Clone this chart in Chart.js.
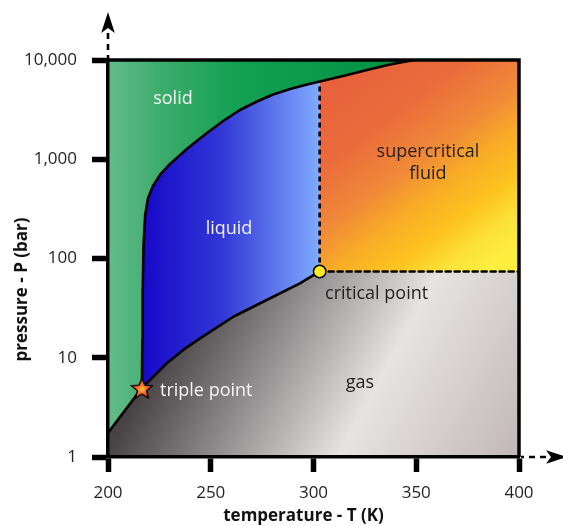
<!DOCTYPE html>
<html>
<head>
<meta charset="utf-8">
<script src="https://cdn.jsdelivr.net/npm/chart.js@4/dist/chart.umd.min.js"></script>
<style>
  html, body { margin: 0; padding: 0; background: #fff; }
  #wrap { width: 563px; height: 526px; }
</style>
</head>
<body>
<div id="wrap"><canvas id="phase" width="563" height="526"></canvas></div>
<script>
// Phase diagram of carbon dioxide: temperature (K) against pressure (bar, log scale)
const TEMP_TICKS = [200, 250, 300, 350, 400];
const PRESSURE_TICKS = [1, 10, 100, 1000, 10000];
const T_MIN = 200, T_MAX = 400;
const P_MIN = 1, P_MAX = 10000;

const TRIPLE_POINT = { T: 216.5, P: 4.95 };
const CRITICAL_POINT = { T: 303, P: 74 };

// solid / gas boundary
const sublimationT = [200, 208, 216.5];
const sublimationP = [1.75, 2.9, 4.95];

// liquid / gas boundary
const vaporizationT = [216.5, 228.6, 236.6, 244.8, 261, 277.2, 293.4, 303];
const vaporizationP = [4.95, 8.8, 12, 15.7, 25.9, 38.2, 56.2, 74];

// solid / liquid (and solid / supercritical) boundary
const meltingT = [216.5, 216.7, 216.9, 217.3, 218.1, 219.5, 221.9, 225.3, 230.2, 238.9, 247.2, 256, 264.2, 272.5, 280.3, 288.6, 295.9, 303, 314.4, 326, 337.2, 349];
const meltingP = [4.95, 15.1, 48.2, 137, 274, 407, 537, 694, 896, 1297, 1775, 2428, 3133, 3820, 4490, 5103, 5600, 6070, 6900, 7925, 9016, 10000];

const REGION_LABELS = [
  { lines: ['solid'], T: 231.6, P: 4050, light: true, align: 'center' },
  { lines: ['liquid'], T: 258.9, P: 198, light: true, align: 'center' },
  { lines: ['supercritical', 'fluid'], T: 355.7, P: 917, light: false, align: 'center' },
  { lines: ['critical point'], T: 305.6, P: 43.9, light: false, align: 'left' },
  { lines: ['gas'], T: 322.6, P: 5.57, light: false, align: 'center' },
  { lines: ['triple point'], T: 225.3, P: 4.62, light: true, align: 'left' }
];

const X_TITLE = 'temperature - T (K)';
const Y_TITLE = 'pressure - P (bar)';

const FONT = "'Open Sans', 'DejaVu Sans', sans-serif";
const INK = '#231f20';
const LINE_W = 2.6;

const zip = (ts, ps) => ts.map((t, i) => ({ x: t, y: ps[i] }));

const meltingPts = zip(meltingT, meltingP);
const meltToTop = [...meltingPts, { x: T_MAX, y: P_MAX }];
const supercritToTop = [...meltingPts.filter(p => p.x >= CRITICAL_POINT.T), { x: T_MAX, y: P_MAX }];
const gasBoundary = [
  ...zip(sublimationT, sublimationP),
  ...zip(vaporizationT, vaporizationP).slice(1),
  { x: T_MAX, y: CRITICAL_POINT.P }
];
const criticalColumn = [
  { x: CRITICAL_POINT.T, y: CRITICAL_POINT.P },
  meltingPts.find(p => p.x === CRITICAL_POINT.T)
];

// gradients are laid out in pixel space once the chart area is known
function withArea(ctx, build) {
  const chart = ctx.chart;
  if (!chart.chartArea) return 'rgba(0,0,0,0)';
  return build(chart.ctx, chart.chartArea, chart.scales.x, chart.scales.y);
}
function stops(g, list) { list.forEach(([o, c]) => g.addColorStop(o, c)); return g; }

const solidFill = c => withArea(c, (ctx, a) =>
  stops(ctx.createLinearGradient(a.left, 0, a.right, 0),
    [[0, '#64bc8b'], [0.12, '#3fad6e'], [0.3, '#15a154'], [0.6, '#069548'], [1, '#058b42']]));

const liquidFill = c => withArea(c, (ctx, a, x) =>
  stops(ctx.createLinearGradient(x.getPixelForValue(TRIPLE_POINT.T), 0, x.getPixelForValue(CRITICAL_POINT.T), 0),
    [[0, '#1608c8'], [0.45, '#3237d6'], [1, '#80abff']]));

const fluidFill = c => withArea(c, (ctx, a, x, y) =>
  stops(ctx.createLinearGradient(x.getPixelForValue(310), y.getPixelForValue(9000), x.getPixelForValue(385), y.getPixelForValue(80)),
    [[0, '#e75e3c'], [0.3, '#eb6c3c'], [0.5, '#f08a38'], [0.63, '#f8ab27'], [0.78, '#fcc41f'], [0.9, '#fde23a'], [1, '#fdee40']]));

const gasFill = c => withArea(c, (ctx, a) =>
  stops(ctx.createLinearGradient(a.left, a.bottom - 7, a.left + 316, a.bottom + 165),
    [[0, '#474244'], [0.25, '#8b8889'], [0.57, '#e6e4e2'], [1, '#c3b8b9']]));

function makeStar(r) {
  const size = Math.ceil(r * 2 + 4);
  const cv = document.createElement('canvas');
  cv.width = cv.height = size;
  const g = cv.getContext('2d');
  const cx = size / 2, cy = size / 2 + r * 0.1;
  g.beginPath();
  for (let i = 0; i < 10; i++) {
    const rad = i % 2 ? r * 0.45 : r;
    const ang = -Math.PI / 2 + i * Math.PI / 5;
    g.lineTo(cx + rad * Math.cos(ang), cy + rad * Math.sin(ang));
  }
  g.closePath();
  const grad = g.createRadialGradient(cx, cy, 0, cx, cy, r);
  grad.addColorStop(0, '#ffc23a');
  grad.addColorStop(0.45, '#f5672a');
  grad.addColorStop(1, '#e2301e');
  g.fillStyle = grad;
  g.fill();
  g.lineWidth = 1.3;
  g.strokeStyle = '#000';
  g.stroke();
  return cv;
}

const areaBase = { fill: 'start', borderWidth: 0, borderColor: 'rgba(0,0,0,0)', pointRadius: 0, tension: 0 };
const strokeBase = { fill: false, borderColor: '#000', borderWidth: LINE_W, pointRadius: 0, tension: 0,
  borderJoinStyle: 'round', borderCapStyle: 'round' };

const datasets = [
  { ...areaBase, label: 'solid', data: [{ x: T_MIN, y: P_MAX }, { x: T_MAX, y: P_MAX }], backgroundColor: solidFill, order: 10 },
  { ...areaBase, label: 'liquid', data: meltToTop, backgroundColor: liquidFill, order: 9 },
  { ...areaBase, label: 'supercritical fluid', data: supercritToTop, backgroundColor: fluidFill, order: 8 },
  { ...areaBase, label: 'gas', data: gasBoundary, backgroundColor: gasFill, order: 7 },
  { ...strokeBase, label: 'critical isotherm', data: criticalColumn, borderDash: [5, 4], borderCapStyle: 'butt', order: 5 },
  { ...strokeBase, label: 'gas boundary', data: gasBoundary, order: 4,
    segment: {
      borderDash: s => s.p0.parsed.x >= CRITICAL_POINT.T ? [5, 4] : undefined
    } },
  { ...strokeBase, label: 'melting curve', data: meltToTop, order: 3,
    segment: { borderColor: s => s.p1DataIndex === meltToTop.length - 1 ? 'rgba(0,0,0,0)' : undefined } },
  { label: 'critical point', data: [{ x: CRITICAL_POINT.T, y: CRITICAL_POINT.P }], showLine: false,
    pointStyle: 'circle', pointRadius: 6.2, pointBackgroundColor: '#ffec1f', pointBorderColor: '#000',
    pointBorderWidth: 1.5, order: 2 },
  { label: 'triple point', data: [{ x: TRIPLE_POINT.T, y: TRIPLE_POINT.P }], showLine: false,
    pointStyle: makeStar(11), pointRadius: 11, order: 1 }
];

function arrowHead(ctx, tx, ty, dx, dy) {
  const len = 21, half = 6.8, notch = 5;
  const px = -dy, py = dx;
  const bx = tx - dx * len, by = ty - dy * len;
  ctx.beginPath();
  ctx.moveTo(tx, ty);
  ctx.lineTo(bx + px * half, by + py * half);
  ctx.lineTo(bx + dx * notch, by + dy * notch);
  ctx.lineTo(bx - px * half, by - py * half);
  ctx.closePath();
  ctx.fill();
}

const decorations = {
  id: 'decorations',
  afterDatasetsDraw(chart) {
    const { ctx, chartArea: a } = chart;
    ctx.save();
    ctx.strokeStyle = '#000';
    ctx.lineWidth = 3.5;
    ctx.beginPath();
    ctx.moveTo(a.left, a.top);
    ctx.lineTo(a.right, a.top);
    ctx.lineTo(a.right, a.bottom);
    ctx.stroke();
    ctx.restore();
  },
  afterDraw(chart) {
    const { ctx, chartArea: a, scales: { x, y } } = chart;
    ctx.save();
    // axis arrows
    ctx.strokeStyle = '#000';
    ctx.fillStyle = '#000';
    ctx.lineWidth = 2.6;
    ctx.setLineDash([6, 5]);
    ctx.beginPath();
    ctx.moveTo(a.left, 33);
    ctx.lineTo(a.left, a.top - 2);
    ctx.stroke();
    ctx.beginPath();
    ctx.moveTo(a.right + 44 - 17, a.bottom);
    ctx.lineTo(a.right + 2, a.bottom);
    ctx.stroke();
    ctx.setLineDash([]);
    arrowHead(ctx, a.left, 12, 0, -1);
    arrowHead(ctx, a.right + 48, a.bottom, 1, 0);

    // region labels
    ctx.font = `18px ${FONT}`;
    ctx.textBaseline = 'middle';
    REGION_LABELS.forEach(l => {
      ctx.fillStyle = l.light ? '#f4f4f4' : INK;
      ctx.textAlign = l.align;
      const px = x.getPixelForValue(l.T), py = y.getPixelForValue(l.P);
      const lh = 22, y0 = py - (l.lines.length - 1) * lh / 2;
      l.lines.forEach((s, i) => ctx.fillText(s, px, y0 + i * lh));
    });

    // axis titles
    ctx.fillStyle = '#111';
    ctx.font = `bold 17px ${FONT}`;
    ctx.textAlign = 'center';
    ctx.fillText(X_TITLE, (a.left + a.right) / 2 - 10, a.bottom + 59);
    ctx.translate(22, (a.top + a.bottom) / 2 + 31);
    ctx.rotate(-Math.PI / 2);
    ctx.fillText(Y_TITLE, 0, 0);
    ctx.restore();
  }
};

const axisGrid = { drawOnChartArea: false, drawTicks: true, tickColor: '#000', tickWidth: 5.5 };
const axisBorder = { display: true, color: '#000', width: 3.5, z: 1 };

new Chart(document.getElementById('phase'), {
  type: 'line',
  data: { datasets },
  plugins: [decorations],
  options: {
    responsive: false,
    animation: false,
    events: [],
    layout: { padding: { top: 60, right: 44, left: 0, bottom: 0 } },
    plugins: { legend: { display: false }, tooltip: { enabled: false } },
    scales: {
      x: {
        type: 'linear', min: T_MIN, max: T_MAX,
        afterBuildTicks: s => { s.ticks = TEMP_TICKS.map(v => ({ value: v })); },
        afterFit: s => { s.height = 69; },
        grid: { ...axisGrid, tickLength: 15 },
        border: axisBorder,
        ticks: { padding: 11, color: INK, font: { family: FONT, size: 17 } }
      },
      y: {
        type: 'logarithmic', min: P_MIN, max: P_MAX,
        afterBuildTicks: s => { s.ticks = PRESSURE_TICKS.map(v => ({ value: v })); },
        afterFit: s => { s.width = 108; },
        grid: { ...axisGrid, tickLength: 16 },
        border: axisBorder,
        ticks: { padding: 15, color: INK, font: { family: FONT, size: 17 },
          callback: v => Number(v).toLocaleString('en-US') }
      }
    }
  }
});
</script>
</body>
</html>
